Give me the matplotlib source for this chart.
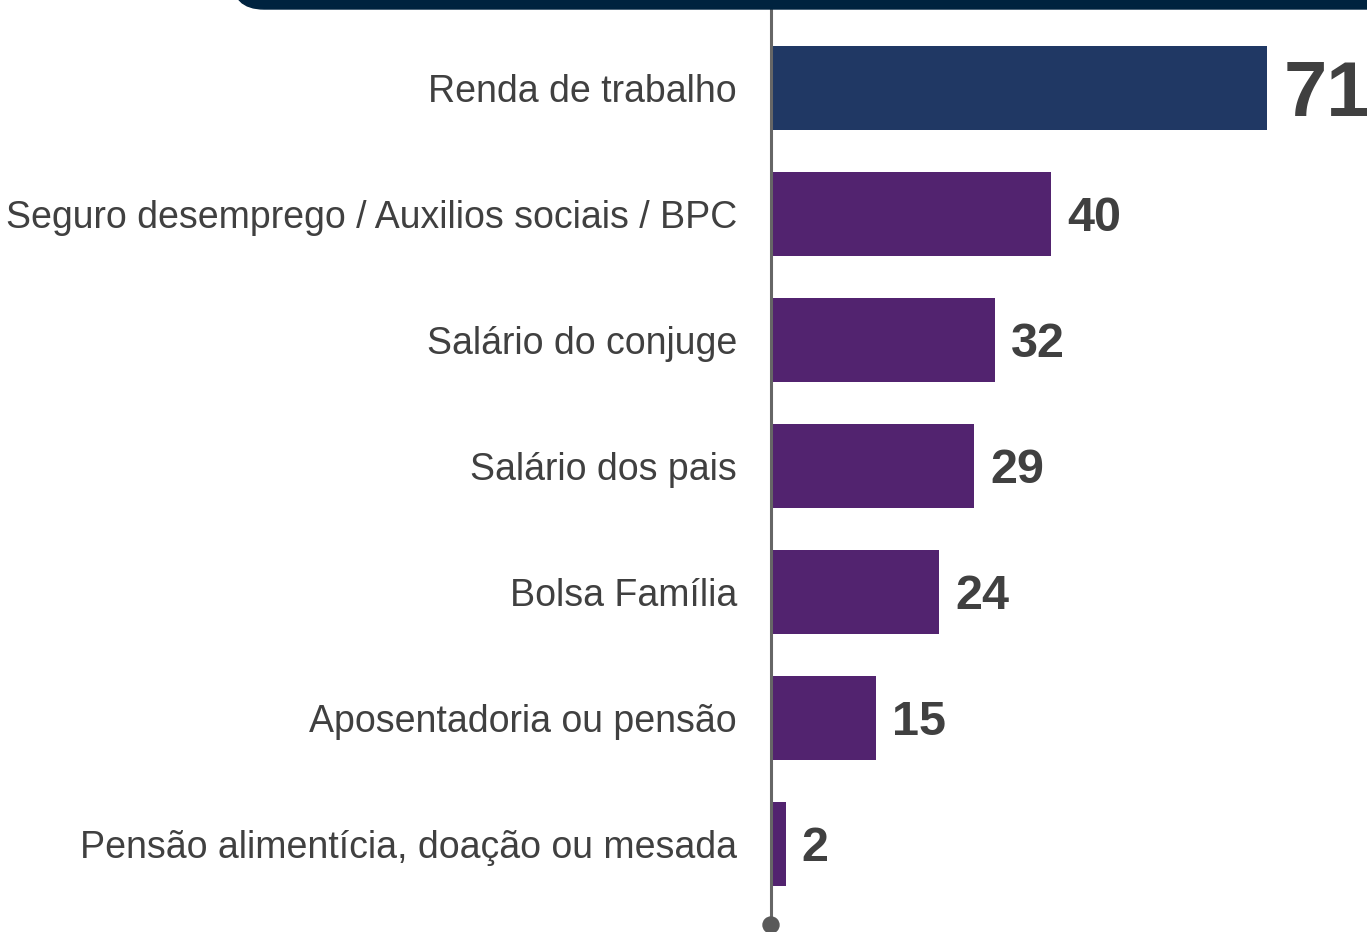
import matplotlib
matplotlib.use("Agg")
import matplotlib.pyplot as plt
from matplotlib.patches import FancyBboxPatch, Circle
from matplotlib.lines import Line2D

categories = ["Renda de trabalho", "Seguro desemprego / Auxilios sociais / BPC",
              "Salário do conjuge", "Salário dos pais", "Bolsa Família",
              "Aposentadoria ou pensão", "Pensão alimentícia, doação ou mesada"]
values = [71, 40, 32, 29, 24, 15, 2]
bar_colors = ["#203864", "#52236F", "#52236F", "#52236F", "#52236F", "#52236F", "#52236F"]
label_sizes = [56, 35, 35, 35, 35, 35, 35]

plt.rcParams['font.family'] = ['Liberation Sans', 'DejaVu Sans']
W, H = 1367, 932
fig = plt.figure(figsize=(W/100, H/100), dpi=100)
x0 = 771
ax = fig.add_axes([x0/W, 0, 1 - x0/W, 1])
ax.set_xlim(0, (W - x0) / 6.98)
ax.set_ylim(6.698, -0.698)
ypos = list(range(len(categories)))
ax.barh(ypos, values, height=0.667, color=bar_colors, left=0.1)
for y, v, s in zip(ypos, values, label_sizes):
    ax.annotate(str(v), (v + 0.1, y), xytext=(16*0.72, -0.358*s), textcoords='offset points',
                ha='left', va='baseline', fontsize=s, fontweight='bold', color='#404040')
ax.set_yticks(ypos)
ax.set_yticklabels(categories, fontsize=27, color='#404040')
ax.tick_params(axis='y', length=0, pad=24.5)
ax.set_xticks([])
for sp in ax.spines.values():
    sp.set_visible(False)

# vertical axis line with dot
fig.add_artist(Line2D([x0/W, x0/W], [1 - 9/H, 1 - 925/H], color='#666666', lw=2.2,
                      transform=fig.transFigure))
fig.add_artist(Circle((x0, H - 925), 8, color='#595959', transform=None, zorder=5))
# header band
fig.add_artist(FancyBboxPatch((232, H - 9), 1300, 60, boxstyle="round,pad=0,rounding_size=32",
                              color='#00233F', transform=None, zorder=6))

fig.savefig("out.png", dpi=100)
